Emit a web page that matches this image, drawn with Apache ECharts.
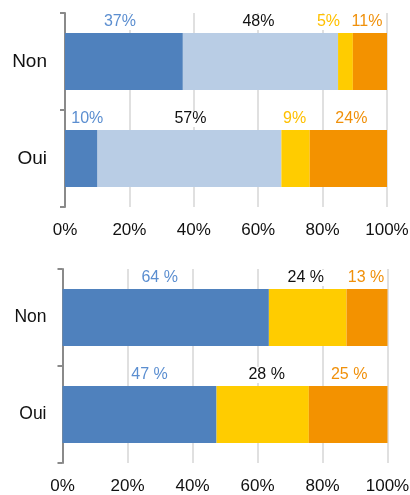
<!DOCTYPE html>
<html>
<head>
<meta charset="utf-8">
<script src="https://cdn.jsdelivr.net/npm/echarts@6/dist/echarts.min.js"></script>
<style>
  html, body { margin: 0; padding: 0; background: #fff; }
  #chart { width: 410px; height: 495px; }
</style>
</head>
<body>
<div id="chart"></div>
<script>
// categories
const categories = ['Non', 'Oui']
const xTicks = [0, 20, 40, 60, 80, 100]

// top chart, 4 segments (share in %)
const topSeg1 = [36.6, 10.1]
const topSeg2 = [48.2, 57.1]
const topSeg3 = [4.6, 8.8]
const topSeg4 = [10.6, 24.0]
const topLabels = [
  ['37%', '10%'],
  ['48%', '57%'],
  ['5%', '9%'],
  ['11%', '24%']
]

// bottom chart, 3 segments (share in %)
const botSeg1 = [63.5, 47.4]
const botSeg2 = [23.9, 28.4]
const botSeg3 = [12.6, 24.2]
const botLabels = [
  ['64 %', '47 %'],
  ['24 %', '28 %'],
  ['13 %', '25 %']
]

// label nudges (px) so the texts don't collide
const topShift = [[-4, 6], [-2, 1], [-17, -1], [-3, 3]]
const botShift = [[-6, 10], [-2, 4], [-1, 1]]

const FONT = 'Liberation Sans, Arial, sans-serif'
const barColors4 = ['#4F81BD', '#B9CDE5', '#FFCC00', '#F39200']
const labelColors4 = ['#5B8ED0', '#111111', '#FFC000', '#F0900A']
const barColors3 = ['#4F81BD', '#FFCC00', '#F39200']
const labelColors3 = ['#5B8ED0', '#111111', '#F0900A']

function makeSeries (arrs, labels, shifts, colors, lblColors, idx, stack) {
  return arrs.map((arr, i) => ({
    type: 'bar',
    stack: stack,
    xAxisIndex: idx,
    yAxisIndex: idx,
    barWidth: 57,
    itemStyle: { color: colors[i] },
    data: arr.map((v, j) => ({
      value: v,
      label: {
        formatter: labels[i][j],
        offset: [shifts[i][j], 0]
      }
    })),
    label: {
      show: true,
      position: 'top',
      distance: 3,
      color: lblColors[i],
      fontFamily: FONT,
      fontSize: 16,
      backgroundColor: '#fff',
      padding: [0, 1]
    },
    z: 3
  }))
}

function xAxis (idx) {
  return {
    gridIndex: idx,
    type: 'value',
    min: 0,
    max: 100,
    interval: 20,
    axisLine: { show: false },
    axisTick: { show: false },
    splitLine: { show: true, lineStyle: { color: '#d6d6d6', width: 1.5 } },
    axisLabel: {
      formatter: '{value}%',
      color: '#111',
      fontFamily: FONT,
      fontSize: 17,
      margin: 15
    }
  }
}

function yAxis (idx, fs, margin) {
  return {
    gridIndex: idx,
    type: 'category',
    data: categories,
    inverse: true,
    axisLine: { show: true, lineStyle: { color: '#8a8a8a', width: 2 } },
    axisTick: { show: true, length: 5, lineStyle: { color: '#8a8a8a', width: 2 } },
    axisLabel: {
      color: '#111',
      fontFamily: FONT,
      fontSize: fs,
      margin: margin
    },
    splitLine: { show: false }
  }
}

var myChart = echarts.init(document.getElementById('chart'))
let option = {
  animation: false,
  backgroundColor: '#fff',
  grid: [
    { left: 65, right: 23, top: 13, height: 194, outerBoundsMode: 'none', containLabel: false },
    { left: 62.5, right: 22.5, top: 269, height: 194, outerBoundsMode: 'none', containLabel: false }
  ],
  xAxis: [xAxis(0), xAxis(1)],
  yAxis: [yAxis(0, 19, 18), yAxis(1, 17.5, 16)],
  series: [].concat(
    makeSeries([topSeg1, topSeg2, topSeg3, topSeg4], topLabels, topShift, barColors4, labelColors4, 0, 'top'),
    makeSeries([botSeg1, botSeg2, botSeg3], botLabels, botShift, barColors3, labelColors3, 1, 'bot')
  )
}
myChart.setOption(option)
</script>
</body>
</html>
